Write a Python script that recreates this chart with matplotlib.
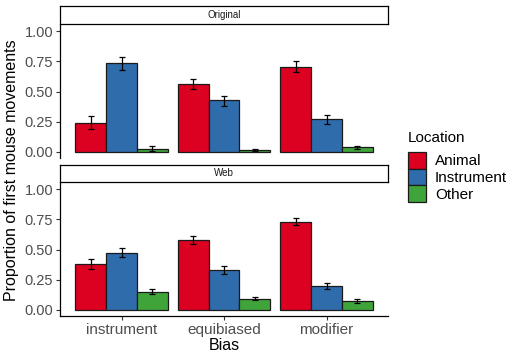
import matplotlib.pyplot as plt
import numpy as np

plt.rcParams['font.family'] = ['Liberation Sans', 'DejaVu Sans']

bias = ["instrument", "equibiased", "modifier"]
locations = ["Animal", "Instrument", "Other"]
colors = ["#DC0021", "#2F6CAC", "#3FA53A"]

# Original panel: mean, lower, upper per location
orig_animal = [0.243, 0.559, 0.704]
orig_animal_lo = [0.19, 0.517, 0.665]
orig_animal_hi = [0.30, 0.60, 0.749]
orig_instr = [0.732, 0.427, 0.271]
orig_instr_lo = [0.676, 0.383, 0.229]
orig_instr_hi = [0.787, 0.466, 0.307]
orig_other = [0.028, 0.017, 0.039]
orig_other_lo = [0.012, 0.012, 0.023]
orig_other_hi = [0.048, 0.022, 0.05]

# Web panel
web_animal = [0.381, 0.578, 0.73]
web_animal_lo = [0.34, 0.544, 0.706]
web_animal_hi = [0.42, 0.614, 0.758]
web_instr = [0.475, 0.333, 0.197]
web_instr_lo = [0.44, 0.30, 0.17]
web_instr_hi = [0.514, 0.367, 0.225]
web_other = [0.147, 0.094, 0.075]
web_other_lo = [0.13, 0.08, 0.056]
web_other_hi = [0.17, 0.11, 0.094]

panels = [
    ("Original",
     [orig_animal, orig_instr, orig_other],
     [orig_animal_lo, orig_instr_lo, orig_other_lo],
     [orig_animal_hi, orig_instr_hi, orig_other_hi]),
    ("Web",
     [web_animal, web_instr, web_other],
     [web_animal_lo, web_instr_lo, web_other_lo],
     [web_animal_hi, web_instr_hi, web_other_hi]),
]

W, H = 520, 360
fig = plt.figure(figsize=(W / 100, H / 100), dpi=100)

def fbox(x0, y0, x1, y1):
    # pixel box (top-left origin) -> figure fraction rect
    return [x0 / W, 1 - y1 / H, (x1 - x0) / W, (y1 - y0) / H]

panel_px = [(60, 25, 388, 158), (60, 183, 388, 316)]
strip_px = [(60, 6, 388, 24), (60, 165, 388, 182)]

x = np.arange(len(bias))
bw = 0.3
tick_col = "#4D4D4D"

for i, (name, means, los, his) in enumerate(panels):
    ax = fig.add_axes(fbox(*panel_px[i]))
    for j in range(len(locations)):
        xpos = x + (j - 1) * bw
        m = np.array(means[j])
        ax.bar(xpos, m, width=bw, color=colors[j], edgecolor="#1a1a1a",
               linewidth=0.9, zorder=2, label=locations[j])
        ax.errorbar(xpos, m, yerr=[m - np.array(los[j]), np.array(his[j]) - m],
                    fmt="none", ecolor="black", elinewidth=0.9, capsize=2.3,
                    capthick=0.9, zorder=3)
    ax.set_xlim(-0.6, 2.6)
    ax.set_ylim(-0.05, 1.05)
    ax.set_yticks([0, 0.25, 0.5, 0.75, 1.0])
    ax.set_yticklabels(["0.00", "0.25", "0.50", "0.75", "1.00"])
    ax.tick_params(axis="y", labelsize=10.5, colors="#333333", labelcolor=tick_col,
                   length=3, width=0.8, pad=2)
    for s in ["top", "right"]:
        ax.spines[s].set_visible(False)
    ax.spines["left"].set_linewidth(0.9)
    ax.spines["bottom"].set_linewidth(0.9)
    if i == 0:
        ax.spines["bottom"].set_visible(False)
        ax.set_xticks([])
    else:
        ax.set_xticks(x)
        ax.set_xticklabels(bias)
        ax.tick_params(axis="x", labelsize=11, colors="#333333", labelcolor=tick_col,
                       length=3, width=0.8, pad=2)
        ax.set_xlabel("Bias", fontsize=11.5, labelpad=1)
        legend_ax = ax

    sax = fig.add_axes(fbox(*strip_px[i]))
    sax.set_xticks([])
    sax.set_yticks([])
    for s in sax.spines.values():
        s.set_linewidth(0.9)
    sax.text(0.5, 0.5, name, ha="center", va="center", fontsize=7,
             color="#1A1A1A", transform=sax.transAxes)

fig.text(12 / W, 1 - 170 / H, "Proportion of first mouse movements", rotation=90,
         ha="center", va="center", fontsize=11.5)

handles, labels = legend_ax.get_legend_handles_labels()
leg = fig.legend(handles, labels, title="Location", loc="upper left",
                 bbox_to_anchor=(402 / W, 1 - 125 / H), frameon=False,
                 fontsize=11, title_fontsize=11, handlelength=1.16, handleheight=1.29,
                 handletextpad=0.6, labelspacing=0.0, borderaxespad=0)
leg._legend_box.align = "left"
leg._legend_box.sep = 5

fig.savefig("out.png", dpi=100)
